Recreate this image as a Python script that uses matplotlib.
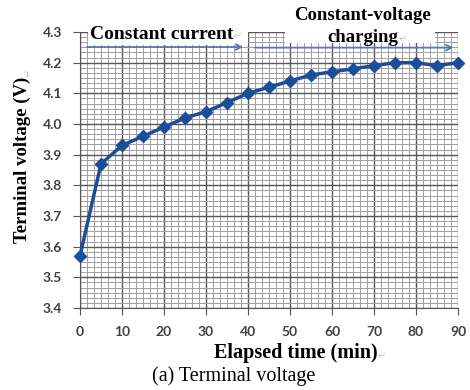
import matplotlib
matplotlib.use("Agg")
import matplotlib.pyplot as plt
from matplotlib.patches import Rectangle
from matplotlib.ticker import AutoMinorLocator

time_min = [0, 5, 10, 15, 20, 25, 30, 35, 40, 45, 50, 55, 60, 65, 70, 75, 80, 85, 90]
voltage = [3.57, 3.87, 3.93, 3.96, 3.99, 4.02, 4.04, 4.07, 4.10, 4.12, 4.14, 4.16,
           4.17, 4.18, 4.19, 4.20, 4.20, 4.19, 4.20]
x_ticks = [0, 10, 20, 30, 40, 50, 60, 70, 80, 90]
y_ticks = [3.4, 3.5, 3.6, 3.7, 3.8, 3.9, 4.0, 4.1, 4.2, 4.3]

serif = ["Liberation Serif", "DejaVu Serif"]
mark_font = ["DejaVu Sans"]
mark_col = "#c8c8c8"

fig = plt.figure(figsize=(4.7, 3.9), dpi=100)
ax = fig.add_axes([80/470, 1-308/390, (458-80)/470, (308-32)/390])

ax.set_xlim(0, 90)
ax.set_ylim(3.4, 4.3)
ax.set_xticks(x_ticks)
ax.set_yticks(y_ticks)
ax.set_yticklabels([f"{v:.1f}" for v in y_ticks])
ax.xaxis.set_minor_locator(AutoMinorLocator(6))
ax.yaxis.set_minor_locator(AutoMinorLocator(6))
ax.grid(which="major", color="#555555", lw=1.0, zorder=0)
ax.grid(which="minor", color="#a0a0a0", lw=0.7, zorder=0)
ax.set_axisbelow(True)
for s in ["top", "right"]:
    ax.spines[s].set_visible(False)
for s in ["left", "bottom"]:
    ax.spines[s].set_color("#555555")
ax.tick_params(which="major", direction="out", length=5, color="#555555",
               labelsize=10, labelcolor="#404040", pad=8)
ax.tick_params(which="minor", length=0)
for lab in ax.get_xticklabels() + ax.get_yticklabels():
    lab.set_fontfamily("Lato")
    lab.set_fontweight("bold")

ax.plot(time_min, voltage, color="#1b4d9b", lw=2.5, marker="D", ms=6,
        markeredgecolor="#1b4d9b", zorder=5, clip_on=False)

# white boxes behind the annotations
ax.add_patch(Rectangle((1.9, 4.257), 38.1, 0.09, facecolor="white", edgecolor="none",
                       zorder=4, clip_on=False))
ax.add_patch(Rectangle((48.8, 4.264), 35.7, 0.15, facecolor="white", edgecolor="none",
                       zorder=4, clip_on=False))

t1 = ax.text(2.3, 4.292, "Constant current", ha="left", va="center",
             fontsize=14, fontweight="bold", family=serif, zorder=6, clip_on=False)
ax.annotate("↵", xy=(1, 0.1), xycoords=t1, fontsize=7, color=mark_col,
            family=mark_font, va="bottom", ha="left", zorder=6)
ax.text(67.3, 4.3 + 17/306.7, "Constant-voltage", ha="center", va="center",
        fontsize=13.5, fontweight="bold", family=serif, zorder=6, clip_on=False)
t3 = ax.text(67.3, 4.3 - 6/306.7, "charging", ha="center", va="center",
             fontsize=13.5, fontweight="bold", family=serif, zorder=6, clip_on=False)
ax.annotate("↵", xy=(1, 0.15), xycoords=t3, fontsize=7, color=mark_col,
            family=mark_font, va="bottom", ha="left", zorder=6)

ax.annotate("", xy=(39.5, 4.251), xytext=(1.0, 4.251),
            arrowprops=dict(arrowstyle="->", color="#5577bb", lw=1.3), zorder=7)
ax.annotate("", xy=(89.6, 4.249), xytext=(41.0, 4.249),
            arrowprops=dict(arrowstyle="->", color="#5577bb", lw=1.3), zorder=7)

# axis labels
xl = fig.text(296/470, 1-353/390, "Elapsed time (min)", ha="center", va="center",
              fontsize=14.5, fontweight="bold", family=serif)
ax.annotate("↵", xy=(1, 0.1), xycoords=xl, fontsize=7, color=mark_col,
            family=mark_font, va="bottom", ha="left")
yl = fig.text(22/470, 1-160/390, "Terminal voltage (V)", ha="center", va="center",
              rotation=90, fontsize=13.5, fontweight="bold", family=serif)
ax.annotate("↵", xy=(0.9, 1), xycoords=yl, fontsize=7, color=mark_col,
            family=mark_font, va="bottom", ha="center", rotation=90)
fig.text(234/470, 1-376/390, "(a) Terminal voltage", ha="center", va="center",
         fontsize=14.5, family=serif)

fig.savefig("out.png", dpi=100)
